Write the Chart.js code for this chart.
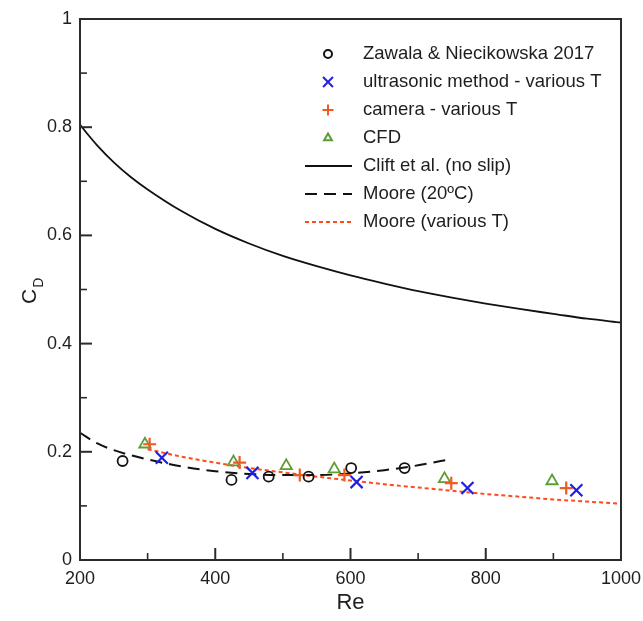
<!DOCTYPE html>
<html>
<head>
<meta charset="utf-8">
<script src="https://cdn.jsdelivr.net/npm/chart.js@4"></script>
<style>
  html, body { margin: 0; padding: 0; background: #fff; }
  #wrap { width: 643px; height: 621px; position: relative; }
</style>
</head>
<body>
<div id="wrap"><canvas id="cdChart"></canvas></div>
<script>
// measured drag coefficients
const reZawala = [263, 424, 479, 538, 601, 680];
const cdZawala = [0.183, 0.148, 0.154, 0.154, 0.170, 0.170];
const reUltra = [321, 455, 609, 773, 934];
const cdUltra = [0.189, 0.161, 0.144, 0.133, 0.129];
const reCamera = [303, 436, 525, 591, 749, 919];
const cdCamera = [0.214, 0.180, 0.157, 0.157, 0.142, 0.133];
const reCfd = [296, 427, 505, 576, 739, 898];
const cdCfd = [0.214, 0.181, 0.174, 0.168, 0.150, 0.146];

// correlation curves
const reClift = [200, 212, 225, 250, 275, 300, 350, 400, 450, 500, 550, 600, 650, 700, 750, 800, 850, 900, 950, 1000];
const cdClift = [0.805, 0.786, 0.767, 0.735, 0.708, 0.685, 0.645, 0.612, 0.585, 0.562, 0.543, 0.526, 0.511, 0.497, 0.485, 0.474, 0.464, 0.455, 0.446, 0.439];
const reMoore20 = [200, 225, 250, 300, 350, 400, 450, 500, 550, 600, 650, 700, 750];
const cdMoore20 = [0.235, 0.216, 0.203, 0.186, 0.173, 0.164, 0.159, 0.157, 0.157, 0.160, 0.166, 0.175, 0.187];
const reMooreT = [300, 350, 400, 450, 500, 550, 600, 650, 700, 750, 800, 850, 900, 950, 1000];
const cdMooreT = [0.205, 0.191, 0.180, 0.170, 0.162, 0.154, 0.147, 0.140, 0.134, 0.128, 0.122, 0.117, 0.112, 0.108, 0.104];

const xTicks = [200, 400, 600, 800, 1000];
const yTicks = [0, 0.2, 0.4, 0.6, 0.8, 1];

const legendLabels = [
    'Zawala & Niecikowska 2017',
    'ultrasonic method - various T',
    'camera - various T',
    'CFD',
    'Clift et al. (no slip)',
    'Moore (20\u00BAC)',
    'Moore (various T)'
];

const FONT = "'Liberation Sans', Arial, sans-serif";
const AXIS = '#2b2b2b';

function pts(xs, ys) {
    return xs.map((x, i) => ({ x: x, y: ys[i] }));
}

function markers(label, xs, ys, style, color, r, lw, lr) {
    return {
        label: label,
        data: pts(xs, ys),
        showLine: false,
        pointStyle: style,
        pointRadius: r,
        pointBorderWidth: lw,
        borderColor: color,
        backgroundColor: 'rgba(0,0,0,0)',
        legendRadius: lr
    };
}

function curve(label, xs, ys, color, dash, lw) {
    return {
        label: label,
        data: pts(xs, ys),
        showLine: true,
        pointRadius: 0,
        borderColor: color,
        borderWidth: lw,
        borderDash: dash,
        cubicInterpolationMode: 'monotone',
        fill: false
    };
}

// frame, inward ticks, titles and legend
const decor = {
    id: 'decor',
    afterDraw(chart) {
        const { ctx, chartArea: a, scales: { x, y } } = chart;
        ctx.save();
        ctx.strokeStyle = AXIS;
        ctx.lineWidth = 2;
        ctx.strokeRect(a.left, a.top, a.right - a.left, a.bottom - a.top);

        xTicks.forEach((v, i) => {
            const px = x.getPixelForValue(v);
            ctx.lineWidth = 2;
            ctx.beginPath(); ctx.moveTo(px, a.bottom); ctx.lineTo(px, a.bottom - 12); ctx.stroke();
            if (i < xTicks.length - 1) {
                const mx = x.getPixelForValue(v + 100);
                ctx.lineWidth = 1.6;
                ctx.beginPath(); ctx.moveTo(mx, a.bottom); ctx.lineTo(mx, a.bottom - 7); ctx.stroke();
            }
        });
        yTicks.forEach((v, i) => {
            const py = y.getPixelForValue(v);
            ctx.lineWidth = 2;
            ctx.beginPath(); ctx.moveTo(a.left, py); ctx.lineTo(a.left + 12, py); ctx.stroke();
            if (i < yTicks.length - 1) {
                const my = y.getPixelForValue(v + 0.1);
                ctx.lineWidth = 1.6;
                ctx.beginPath(); ctx.moveTo(a.left, my); ctx.lineTo(a.left + 7, my); ctx.stroke();
            }
        });

        ctx.fillStyle = '#1e1e1e';
        ctx.textAlign = 'center';
        ctx.textBaseline = 'middle';
        ctx.font = '22px ' + FONT;
        ctx.fillText('Re', (a.left + a.right) / 2, 603);

        // C with subscript D, rotated
        ctx.save();
        ctx.translate(36, 304);
        ctx.rotate(-Math.PI / 2);
        ctx.textAlign = 'left';
        ctx.textBaseline = 'alphabetic';
        ctx.font = '21px ' + FONT;
        ctx.fillText('C', 0, 0);
        const cw = ctx.measureText('C').width;
        ctx.font = '14px ' + FONT;
        ctx.fillText('D', cw + 1, 7);
        ctx.restore();

        // legend
        ctx.font = '18.5px ' + FONT;
        ctx.textAlign = 'left';
        ctx.textBaseline = 'middle';
        chart.data.datasets.forEach((ds, i) => {
            const ry = 54 + i * 28;
            ctx.strokeStyle = ds.borderColor;
            if (ds.showLine) {
                ctx.lineWidth = ds.borderWidth;
                ctx.setLineDash(ds.borderDash || []);
                ctx.beginPath(); ctx.moveTo(305, ry); ctx.lineTo(352, ry); ctx.stroke();
                ctx.setLineDash([]);
            } else {
                ctx.fillStyle = 'rgba(0,0,0,0)';
                Chart.helpers.drawPoint(ctx, {
                    pointStyle: ds.pointStyle,
                    radius: ds.legendRadius,
                    rotation: 0,
                    borderWidth: 1.8
                }, 328, ry);
            }
            ctx.fillStyle = '#1e1e1e';
            ctx.fillText(legendLabels[i], 363, ry);
        });
        ctx.restore();
    }
};

new Chart(document.getElementById('cdChart'), {
    type: 'scatter',
    data: {
        datasets: [
            markers(legendLabels[0], reZawala, cdZawala, 'circle', '#141414', 5, 1.8, 4),
            markers(legendLabels[1], reUltra, cdUltra, 'crossRot', '#1f1fe6', 8.5, 2.2, 7),
            markers(legendLabels[2], reCamera, cdCamera, 'cross', '#f05a23', 6.5, 2.2, 5.5),
            markers(legendLabels[3], reCfd, cdCfd, 'triangle', '#5c9e35', 6.5, 1.8, 4.5),
            curve(legendLabels[4], reClift, cdClift, '#111111', [], 1.8),
            curve(legendLabels[5], reMoore20, cdMoore20, '#111111', [12, 7], 2),
            curve(legendLabels[6], reMooreT, cdMooreT, '#ff4a1c', [4, 3], 2)
        ]
    },
    options: {
        responsive: true,
        maintainAspectRatio: false,
        animation: false,
        layout: { padding: { left: 0, top: 19, right: 22, bottom: 0 } },
        plugins: {
            legend: { display: false },
            tooltip: { enabled: false }
        },
        scales: {
            x: {
                type: 'linear',
                min: 200,
                max: 1000,
                afterFit: s => { s.height = 61; s.paddingLeft = 0; s.paddingRight = 0; },
                afterBuildTicks: s => { s.ticks = xTicks.map(v => ({ value: v })); },
                grid: { display: false, drawTicks: false },
                border: { display: true, color: AXIS, width: 2 },
                ticks: {
                    padding: 8,
                    color: '#1e1e1e',
                    font: { family: FONT, size: 18 },
                    maxRotation: 0,
                    callback: v => String(v)
                }
            },
            y: {
                type: 'linear',
                min: 0,
                max: 1,
                afterFit: s => { s.width = 80; s.paddingTop = 0; s.paddingBottom = 0; },
                afterBuildTicks: s => { s.ticks = yTicks.map(v => ({ value: v })); },
                grid: { display: false, drawTicks: false },
                border: { display: true, color: AXIS, width: 2 },
                ticks: {
                    padding: 8,
                    color: '#1e1e1e',
                    font: { family: FONT, size: 18 },
                    callback: v => String(Number(v.toFixed(1)))
                }
            }
        }
    },
    plugins: [decor]
});
</script>
</body>
</html>
